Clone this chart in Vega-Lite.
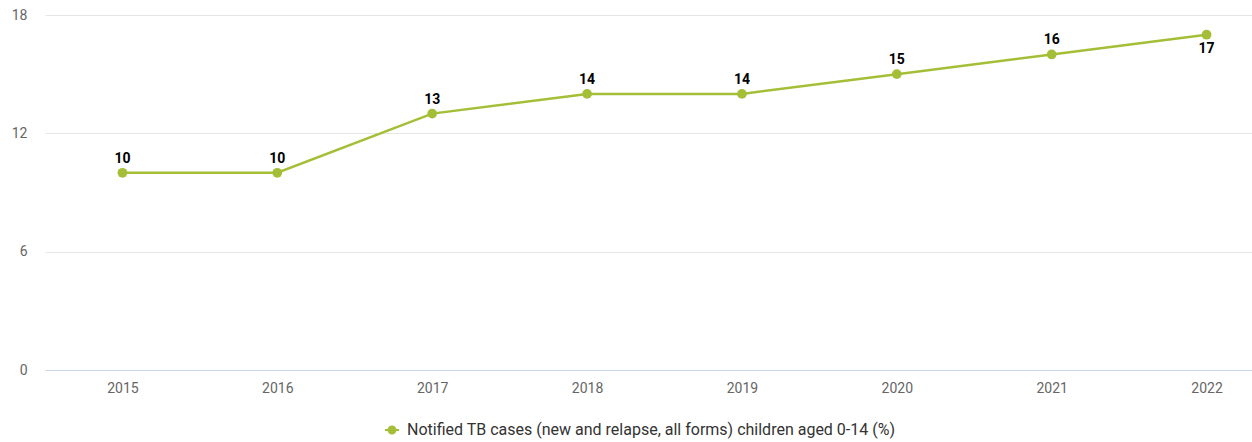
{
  "$schema": "https://vega.github.io/schema/vega-lite/v6.json",
  "autosize": {"type": "none"},
  "padding": {"left": 45, "top": 15, "right": 0, "bottom": 72},
  "width": 1239,
  "height": 355,
  "background": "white",
  "config": {
    "view": {"stroke": null},
    "font": "Roboto",
    "axis": {"labelFont": "Roboto", "labelColor": "#666666", "labelFontSize": 14, "domain": false, "ticks": false, "title": null}
  },
  "data": {
    "values": [
      {"year": "2015", "value": 10, "series": "Notified TB cases (new and relapse, all forms) children aged 0-14 (%)"},
      {"year": "2016", "value": 10, "series": "Notified TB cases (new and relapse, all forms) children aged 0-14 (%)"},
      {"year": "2017", "value": 13, "series": "Notified TB cases (new and relapse, all forms) children aged 0-14 (%)"},
      {"year": "2018", "value": 14, "series": "Notified TB cases (new and relapse, all forms) children aged 0-14 (%)"},
      {"year": "2019", "value": 14, "series": "Notified TB cases (new and relapse, all forms) children aged 0-14 (%)"},
      {"year": "2020", "value": 15, "series": "Notified TB cases (new and relapse, all forms) children aged 0-14 (%)"},
      {"year": "2021", "value": 16, "series": "Notified TB cases (new and relapse, all forms) children aged 0-14 (%)"},
      {"year": "2022", "value": 17, "series": "Notified TB cases (new and relapse, all forms) children aged 0-14 (%)"}
    ]
  },
  "encoding": {
    "x": {"field": "year", "type": "ordinal", "scale": {"type": "point", "padding": 0.5}, "axis": {"labelAngle": 0, "labelPadding": 11, "grid": false}},
    "y": {"field": "value", "type": "quantitative", "scale": {"domain": [0, 18]}, "axis": {"values": [0, 6, 12, 18], "labelPadding": 18, "grid": true, "gridColor": {"condition": {"test": "datum.value === 0", "value": "#ccd6eb"}, "value": "#e6e6e6"}, "gridWidth": 1}}
  },
  "layer": [
    {
      "mark": {"type": "line", "strokeWidth": 2.5},
      "encoding": {
        "color": {"field": "series", "type": "nominal", "scale": {"range": ["#a4bf37"]},
          "legend": {"orient": "none", "legendX": 337, "legendY": 405, "title": null, "labelFont": "Roboto", "labelFontSize": 16, "labelColor": "#333333", "labelLimit": 0, "symbolType": "M-0.45,0 A0.45,0.45 0 1,1 0.45,0 A0.45,0.45 0 1,1 -0.45,0 Z M-0.7,-0.11 L0.7,-0.11 L0.7,0.11 L-0.7,0.11 Z", "symbolSize": 400, "symbolStrokeWidth": 0, "labelOffset": 5}}
      }
    },
    {
      "mark": {"type": "point", "filled": true, "size": 95, "opacity": 1},
      "encoding": {"color": {"field": "series", "type": "nominal", "legend": null}}
    },
    {
      "transform": [{"filter": "datum.year != '2022'"}],
      "mark": {"type": "text", "baseline": "bottom", "dy": -7, "fontWeight": "bold", "fontSize": 14, "color": "#000000"},
      "encoding": {"text": {"field": "value", "type": "quantitative"}}
    },
    {
      "transform": [{"filter": "datum.year == '2022'"}],
      "mark": {"type": "text", "baseline": "top", "dy": 7, "fontWeight": "bold", "fontSize": 14, "color": "#000000"},
      "encoding": {"text": {"field": "value", "type": "quantitative"}}
    }
  ]
}
